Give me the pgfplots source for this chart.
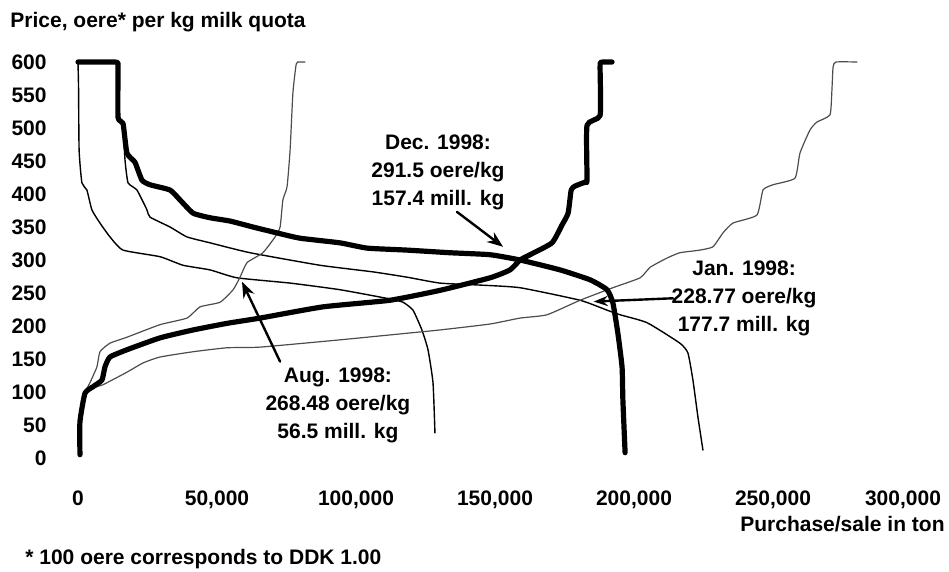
\documentclass[border=0pt]{standalone}
\usepackage{fontspec}
\setmainfont{Liberation Sans}
\usepackage{pgfplots}
\pgfplotsset{compat=1.18}
\usetikzlibrary{arrows.meta}
\newcommand{\lbl}{\bfseries\fontsize{10.5}{14}\selectfont}
\begin{document}
\begin{tikzpicture}
\useasboundingbox (0,0) rectangle (474.5pt,286pt);
\begin{axis}[
  at={(39pt,57pt)}, anchor=south west,
  scale only axis, width=417pt, height=198pt,
  xmin=0, xmax=300000, ymin=0, ymax=600,
  axis line style={draw=none},
  major tick length=0pt,
  tick style={draw=none},
  xtick={0,50000,100000,150000,200000,250000},
  xticklabels={0,{50,000},{100,000},{150,000},{200,000},{250,000}},
  extra x ticks={300000},
  extra x tick labels={300{,}000},
  extra x tick style={xticklabel style={xshift=-4.5pt}},
  scaled x ticks=false,
  ytick={0,50,...,600},
  /pgf/number format/assume math mode=true,
  xticklabel style={font=\lbl, anchor=base, inner sep=0pt, yshift=-24pt},
  yticklabel style={font=\lbl, anchor=base east, inner sep=0pt, xshift=-15.5pt, yshift=-3.75pt},
  clip=false,
  line cap=round, line join=round,
]
% Aug 1998 demand (thin)
\addplot[black, line width=0.7pt, smooth, tension=0.3] coordinates {
(0,600) (200,560) (400,466) (1400,417) (3200,406) (5000,376) (7900,356) (11500,335)
(16200,315) (29500,305) (37800,292) (47500,285) (57200,273) (76300,265)
(94200,255) (112200,241) (116900,236) (120500,224) (123700,194) (125900,164)
(127700,114) (128400,38)};
% Jan 1998 demand (thin)
\addplot[black, line width=0.7pt, smooth, tension=0.3] coordinates {
(14400,600) (14400,516) (16200,507) (16900,452) (18000,417) (21200,406)
(24800,376) (25900,365) (33100,350) (39200,335) (47500,326) (61900,311)
(87100,292) (106100,282) (118300,274) (130200,265) (144600,262) (159000,258)
(180600,239) (190300,224) (195000,217) (204700,205) (216500,174) (219400,159)
(221200,118) (223000,62) (224800,12)};
% Aug 1998 supply (thin)
\addplot[black!70, line width=0.6pt, smooth, tension=0.3] coordinates {
(700,5) (700,50) (2500,98) (4300,114) (6800,138) (7900,161) (11500,174)
(17600,183) (29500,202) (39200,212) (43900,229) (51100,236) (55800,255)
(58300,274) (60800,296) (66500,311) (70900,335) (72700,350) (73700,391)
(75200,411) (76300,467) (77300,553) (78500,597) (79500,600) (81700,600)};
% Jan 1998 supply (thin)
\addplot[black!70, line width=0.6pt, smooth, tension=0.3] coordinates {
(700,5) (700,55) (2500,98) (5400,106) (9000,111) (10400,114) (17600,130)
(23400,144) (29500,153) (41400,161) (53600,167) (65500,168) (94200,179)
(118300,189) (130200,194) (148200,203) (159000,212) (168700,217) (180600,239)
(192400,258) (202200,273) (205800,289) (211900,303) (216500,311) (223700,315)
(228400,320) (232000,341) (235600,356) (244200,368) (246400,406) (250000,414)
(257900,424) (259700,462) (263300,497) (265800,509) (270500,520) (271200,558)
(271600,592) (272600,600) (280200,600)};
% Dec 1998 demand (thick)
\addplot[black, line width=2.6pt, smooth, tension=0.3] coordinates {
(0,600) (12500,600) (14300,599) (14400,590) (14400,516) (16200,507) (17600,462) (20500,448)
(23000,421) (25900,414) (33100,406) (36700,391) (41400,371) (47500,364)
(54700,359) (62900,350) (71600,341) (79900,333) (94200,326) (104000,318)
(118300,315) (133800,311) (148200,308) (159000,300) (173400,285) (184200,270)
(190300,255) (192400,235) (194200,189) (195700,138) (196000,88) (196800,8)};
% Dec 1998 supply (thick)
\addplot[black, line width=2.6pt, smooth, tension=0.3] coordinates {
(700,5) (700,55) (2500,98) (5400,108) (8600,118) (9700,138) (11500,153)
(17600,164) (29500,182) (41400,194) (53600,204) (65500,212) (88100,229)
(112200,239) (130200,254) (148200,273) (155400,285) (159000,300) (162600,308)
(170500,326) (174100,353) (176300,371) (177400,406) (178800,412) (182400,418)
(183100,421) (183100,504) (187800,519) (187800,590) (187900,599) (189000,600) (192100,600)};
% annotations
\node[font=\lbl, align=center, inner sep=0pt] at (axis cs:129500,433)
  {Dec. 1998:\\291.5 oere/kg\\157.4 mill. kg};
\draw[line width=1.2pt, -{Stealth[length=8pt,width=6pt]}]
  (axis cs:136300,373) -- (axis cs:152900,320);
\node[font=\lbl, align=center, inner sep=0pt] at (axis cs:93500,80)
  {Aug. 1998:\\268.48 oere/kg\\56.5 mill. kg};
\draw[line width=1.2pt, -{Stealth[length=8pt,width=6pt]}]
  (axis cs:72700,146) -- (axis cs:59000,267);
\node[font=\lbl, align=center, inner sep=0pt] at (axis cs:239600,242)
  {Jan. 1998:\\228.77 oere/kg\\177.7 mill. kg};
\draw[line width=1.2pt, -{Stealth[length=7pt,width=5pt]}]
  (axis cs:214000,242) -- (axis cs:185500,237);
\end{axis}
\node[font=\lbl, anchor=base west, inner sep=0pt] at (5pt,272pt) {Price, oere* per kg milk quota};
\node[font=\lbl, anchor=base east, inner sep=0pt] at (472.5pt,20pt) {Purchase/sale in ton};
\node[font=\lbl, anchor=base west, inner sep=0pt] at (12.5pt,3.5pt) {* 100 oere corresponds to DDK 1.00};
\end{tikzpicture}
\end{document}
